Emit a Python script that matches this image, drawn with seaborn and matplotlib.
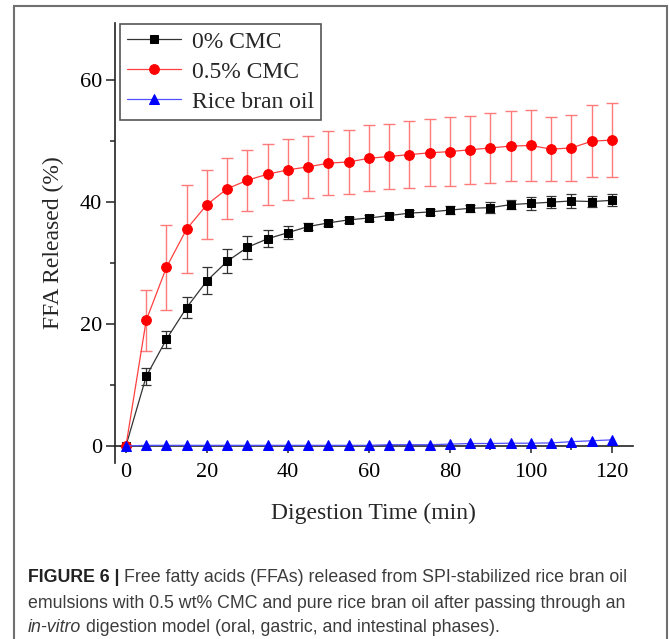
import matplotlib
matplotlib.use("Agg")
import matplotlib.pyplot as plt
from matplotlib.patches import Rectangle
from matplotlib.ticker import MultipleLocator
import seaborn as sns

# digestion time (min)
time = [0, 5, 10, 15, 20, 25, 30, 35, 40, 45, 50, 55, 60,
        65, 70, 75, 80, 85, 90, 95, 100, 105, 110, 115, 120]

# FFA released (%) and standard deviations
cmc0 = [0, 11.4, 17.5, 22.7, 27.1, 30.3, 32.6, 34.0, 35.0, 36.0, 36.6, 37.1, 37.4,
        37.8, 38.2, 38.4, 38.7, 39.0, 39.1, 39.6, 39.8, 40.0, 40.2, 40.1, 40.3]
cmc0_sd = [0, 1.4, 1.4, 1.7, 2.2, 2.0, 1.9, 1.4, 1.1, 0.6, 0.5, 0.5, 0.5,
           0.5, 0.5, 0.5, 0.6, 0.6, 0.9, 0.8, 1.1, 1.0, 1.2, 0.9, 1.0]
cmc05 = [0, 20.6, 29.3, 35.6, 39.6, 42.2, 43.6, 44.6, 45.3, 45.8, 46.4, 46.6, 47.2,
         47.5, 47.8, 48.1, 48.3, 48.6, 48.9, 49.2, 49.3, 48.7, 48.9, 50.0, 50.2]
cmc05_sd = [0, 5.0, 7.0, 7.2, 5.7, 5.0, 5.0, 5.0, 5.0, 5.1, 5.3, 5.3, 5.4,
            5.3, 5.5, 5.5, 5.6, 5.6, 5.7, 5.8, 5.9, 5.2, 5.4, 5.9, 6.0]
oil = [0, 0.1, 0.1, 0.1, 0.1, 0.1, 0.1, 0.1, 0.1, 0.1, 0.1, 0.1, 0.1,
       0.2, 0.2, 0.2, 0.3, 0.4, 0.4, 0.45, 0.45, 0.5, 0.7, 0.85, 1.0]

labels = ["0% CMC", "0.5% CMC", "Rice bran oil"]

sns.set_theme(style="ticks")
plt.rcParams["font.family"] = ["Liberation Serif", "DejaVu Serif"]

W, H = 669, 639
fig = plt.figure(figsize=(W / 100, H / 100), dpi=100)
ax = fig.add_axes([115 / W, (H - 463) / H, 517.6 / W, 440 / H])

# error bars first so markers sit on top
ax.errorbar(time, cmc0, yerr=cmc0_sd, fmt="none", ecolor="#333333",
            elinewidth=0.9, capsize=3.5, capthick=0.9, zorder=2)
ax.errorbar(time, cmc05, yerr=cmc05_sd, fmt="none", ecolor="#ff7a7a",
            elinewidth=1.0, capsize=4, capthick=1.0, zorder=2)

sns.lineplot(x=time, y=cmc0, ax=ax, color="#333333", linewidth=0.9,
             marker="s", markersize=6.3, markerfacecolor="black",
             markeredgecolor="black", label=labels[0], zorder=3)
sns.lineplot(x=time, y=cmc05, ax=ax, color="#ff4040", linewidth=0.9,
             marker="o", markersize=7, markerfacecolor="#ff0000",
             markeredgecolor="#ff0000", label=labels[1], zorder=4)
sns.lineplot(x=time, y=oil, ax=ax, color="#5050ff", linewidth=0.9,
             marker="^", markersize=7, markerfacecolor="#0000ff",
             markeredgecolor="#0000ff", label=labels[2], zorder=5)

ax.set_xlim(-2.7, 125.1)
ax.set_ylim(-2.8, 69.4)
ax.xaxis.set_major_locator(MultipleLocator(20))
ax.xaxis.set_minor_locator(MultipleLocator(10))
ax.yaxis.set_major_locator(MultipleLocator(20))
ax.yaxis.set_minor_locator(MultipleLocator(10))

ax.spines["top"].set_visible(False)
ax.spines["right"].set_visible(False)
ax.spines["bottom"].set_position(("data", 0))
for s in ("left", "bottom"):
    ax.spines[s].set_linewidth(1.2)
    ax.spines[s].set_color("#222222")

ax.tick_params(axis="both", which="both", direction="out", colors="#222222",
               labelcolor="black", labelsize=16, width=1.1)
ax.tick_params(axis="y", which="major", length=6.5, pad=3)
ax.tick_params(axis="y", which="minor", length=3.5)
ax.tick_params(axis="x", which="major", length=5, pad=7)
ax.tick_params(axis="x", which="minor", length=3)

ax.set_xlabel("Digestion Time (min)", fontsize=17)
ax.set_ylabel("FFA Released (%)", fontsize=17)
ax.xaxis.set_label_coords(0.5, -0.09)
ax.yaxis.set_label_coords(-0.098, 0.5)

leg = ax.legend(loc="upper left", bbox_to_anchor=(120 / W, 1 - 24 / H),
                bbox_transform=fig.transFigure, frameon=True, fancybox=False,
                edgecolor="#555555", framealpha=1, borderaxespad=0,
                handlelength=2.3, handletextpad=0.45, labelspacing=0.36,
                borderpad=0.3, fontsize=17)
leg.get_frame().set_linewidth(1.2)

# outer frame of the figure panel
fig.patches.append(Rectangle((14 / W, -0.1), (667 - 14) / W, 1.1 - 6 / H,
                             transform=fig.transFigure, fill=False,
                             edgecolor="#707070", linewidth=1.5, clip_on=False))

# caption, drawn piece by piece to mix bold / italic
cap_font = ["Liberation Sans", "DejaVu Sans"]
cap_size = 12.8
cap_lines = [
    [("FIGURE 6 |", "bold", "normal", "#222222"),
     ("Free fatty acids (FFAs) released from SPI-stabilized rice bran oil", "normal", "normal", "#3c3c3c")],
    [("emulsions with 0.5 wt% CMC and pure rice bran oil after passing through an", "normal", "normal", "#3c3c3c")],
    [("in-vitro", "normal", "italic", "#3c3c3c"),
     ("digestion model (oral, gastric, and intestinal phases).", "normal", "normal", "#3c3c3c")],
]
cap_y = [578, 603, 627]
fig.canvas.draw()
renderer = fig.canvas.get_renderer()
for pieces, yy in zip(cap_lines, cap_y):
    x = 28
    for txt, weight, style, col in pieces:
        t = fig.text(x / W, 1 - yy / H, txt, fontsize=cap_size, family=cap_font,
                     weight=weight, style=style, color=col, va="center", ha="left")
        bb = t.get_window_extent(renderer=renderer)
        x = bb.x1 + 4.5

fig.savefig("out.png", dpi=100)
